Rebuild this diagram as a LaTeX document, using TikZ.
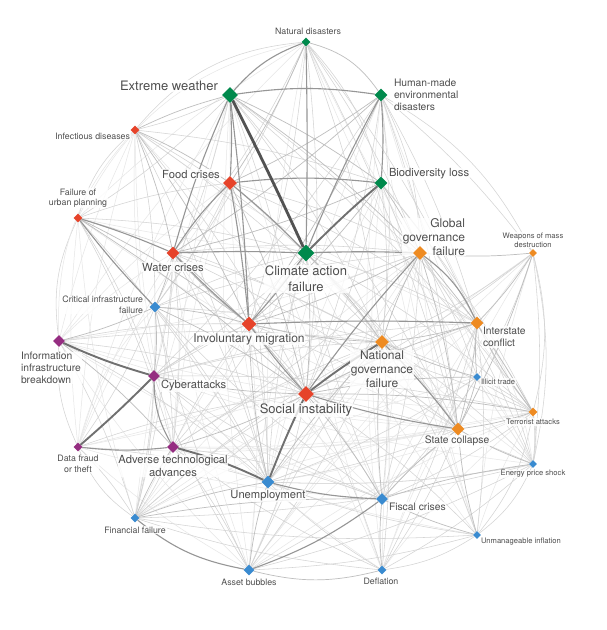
\documentclass[tikz,border=0pt]{standalone}
\usepackage{fontspec}
\setmainfont{TeX Gyre Heros}
\usetikzlibrary{shapes.geometric}
\definecolor{cgreen}{RGB}{0,137,76}
\definecolor{cred}{RGB}{230,67,42}
\definecolor{corange}{RGB}{238,139,34}
\definecolor{cpurple}{RGB}{149,45,129}
\definecolor{cblue}{RGB}{58,139,208}
\definecolor{txt}{RGB}{78,78,78}
\definecolor{g0}{RGB}{230,230,230}
\definecolor{g1}{RGB}{212,212,212}
\definecolor{g2}{RGB}{190,190,190}
\definecolor{g3}{RGB}{150,150,150}
\definecolor{g4}{RGB}{112,112,112}
\definecolor{g5}{RGB}{82,82,82}
\tikzset{
  dia/.style={diamond, draw=none, inner sep=0pt, minimum width=#1, minimum height=#1},
  lab/.style={text=txt, fill=white, fill opacity=0.8, text opacity=1, inner sep=0.8pt},
  tA/.style={lab, font=\fontsize{7.6}{9}\selectfont},
  tB/.style={lab, font=\fontsize{8.8}{10.5}\selectfont},
  tC/.style={lab, font=\fontsize{10.3}{11.8}\selectfont},
  tCp/.style={lab, font=\fontsize{11.2}{12.2}\selectfont},
  tD/.style={lab, font=\fontsize{12}{13.8}\selectfont},
  tE/.style={lab, font=\fontsize{13}{16.2}\selectfont},
  e0/.style={draw=g0, line width=0.5pt},
  e1/.style={draw=g1, line width=0.55pt},
  e2/.style={draw=g2, line width=0.7pt},
  e3/.style={draw=g3, line width=1.1pt},
  e4/.style={draw=g4, line width=1.9pt},
  e5/.style={draw=g5, line width=2.8pt},
}
\begin{document}
\begin{tikzpicture}[x=1pt,y=-1pt]
\fill[white] (0,0) rectangle (606,630);
\useasboundingbox (0,0) rectangle (606,630);
\path
  (306,42)  coordinate (pnd)
  (230,95)  coordinate (pew)
  (381,95)  coordinate (phm)
  (135,130) coordinate (pid)
  (230,183) coordinate (pfc)
  (381,183) coordinate (pbl)
  (78,218)  coordinate (pfu)
  (173,253) coordinate (pwc)
  (306,253) coordinate (pca)
  (420,253) coordinate (pgg)
  (533,253) coordinate (pwm)
  (155,307) coordinate (pci)
  (59,341)  coordinate (pii)
  (249,324) coordinate (pim)
  (477,323) coordinate (pic)
  (382,342) coordinate (png)
  (154,376) coordinate (pcy)
  (477,377) coordinate (pit)
  (306,394) coordinate (psi)
  (533,412) coordinate (pta)
  (78,447)  coordinate (pdf)
  (173,447) coordinate (pat)
  (458,429) coordinate (psc)
  (533,464) coordinate (pep)
  (268,482) coordinate (pun)
  (382,499) coordinate (pfs)
  (135,518) coordinate (pff)
  (477,535) coordinate (pui)
  (249,570) coordinate (pab)
  (382,570) coordinate (pde);
\foreach \n/\s in {nd/9,ew/16,hm/13,id/9,fc/14,bl/13,fu/9,wc/13,ca/17,gg/14,wm/8,ci/11,ii/12,im/15,ic/13,ng/14,cy/12,it/8,si/16,ta/9,df/9,at/12,sc/13,ep/8,un/13,fs/12,ff/9,ui/8,ab/11,de/9}
  \node[dia=\s pt] (\n) at (p\n) {};
% ---------- very light edges ----------
\foreach \a/\b in {nd/fu,nd/ii,id/ii,nd/ep,hm/ep,hm/ta,hm/ui,wm/ui,wm/de,wm/fs,ta/de,ta/ab,ta/un,ta/ui,ep/it,it/ab,it/ff,it/de,ic/ab,ic/ff,sc/ff,gg/ab,gg/de,gg/ui,gg/ff,ca/ab,ca/de,ca/ui,ca/ep,ca/ff,bl/fs,bl/un,bl/ep,bl/ui,ew/un,ew/fs,ew/ab,ew/ff,ew/at,ew/df,fc/ff,fc/at,fc/df,fc/ii,wc/ii,wc/df,wc/ab,wc/fs,id/at,id/df,id/cy,fu/df,fu/ff,ii/fs,ii/ab,ii/sc,df/fs,df/ng,df/ab,cy/sc,cy/de,cy/ep,at/sc,at/ta,at/ui,un/ta,un/ep,de/im,ab/im,ff/im,nd/ta,nd/un,hm/de,hm/un,wm/un,wm/ab,id/sc,id/ic,fu/sc,fu/gg,ii/gg,ii/ta,df/sc,df/ic}
  \draw[e0] (\a) to[bend right=6] (\b);
% ---------- light edges ----------
\foreach \a/\b in {ew/si,ew/id,ew/fu,ew/ci,ew/ng,ew/sc,hm/si,hm/wm,hm/ng,hm/sc,nd/wc,nd/im,nd/si,nd/gg,nd/ci,nd/ng,id/si,id/ci,id/ca,id/bl,fu/ca,fu/cy,fu/ng,fu/fc,wc/gg,wc/ng,wc/sc,wc/cy,wc/un,ci/at,ci/un,ci/ff,ci/ng,ci/gg,ci/ca,ci/df,ii/un,ii/ff,ii/im,ii/si,ii/ng,cy/un,cy/ff,cy/ic,cy/ta,cy/ng,cy/gg,cy/im,df/un,df/si,df/ff,at/ff,at/ab,at/ng,at/fs,at/im,im/sc,im/ta,im/un,im/fs,si/ab,si/de,si/ui,si/ep,si/ff,ng/fs,ng/ta,ng/ui,ng/ab,ng/de,ng/ep,gg/fs,gg/it,gg/ep,gg/un,gg/at,ic/fs,ic/ui,ic/ep,ic/de,sc/de,sc/ab,sc/un,ta/ep,ta/fs,it/ta,it/fs,it/un,ep/de,ep/ab,ep/ff,ep/un,ui/ab,ui/un,ui/ff,fs/ca,un/ca,ca/sc,ca/ic,bl/si,bl/ng,bl/ic,bl/sc,fc/gg,fc/ng,fc/ci,fc/ic,fc/sc,fc/un,wm/ng,wm/si,wm/it,wm/ep,de/un,de/ff,de/at,ab/ci,ab/cy,ab/ng,fs/cy,fs/ci,ff/si,ff/ng,hm/ic,bl/ta,ca/ta,ca/cy,ca/at,ew/ic,ew/ta,nd/ic,nd/sc,hm/cy,id/ng,id/un,fu/at,fu/un,wc/at,wc/ff}
  \draw[e1] (\a) to[bend left=6] (\b);
% ---------- outer ring arcs ----------
\draw[e1] (hm) to[bend left=16] (wm);
\draw[e1] (wm) to[bend left=14] (ta);
\draw[e1] (ta) to[bend left=10] (ep);
\draw[e1] (ep) to[bend left=14] (ui);
\draw[e1] (ui) to[bend left=12] (de);
\draw[e1] (ff) to[bend left=16] (df);
\draw[e1] (df) to[bend left=14] (ii);
\draw[e1] (ii) to[bend left=16] (fu);
\draw[e1] (fu) to[bend left=16] (id);
\draw[e1] (id) to[bend left=22] (nd);
\draw[e0] (fu) to[bend left=26] (nd);
\draw[e0] (ii) to[bend left=22] (id);
\draw[e1] (wm) to[bend left=12] (ep);
\draw[e1] (ta) to[bend left=14] (ui);
\draw[e0] (ic) to[bend left=12] (ep);
\draw[e1] (nd) to[bend left=14] (bl);
\draw[e1] (hm) to[bend left=12] (gg);
\draw[e0] (ci) to[bend right=14] (df);
% ---------- medium edges ----------
\foreach \a/\b in {nd/fc,hm/fc,hm/wc,bl/gg,bl/wc,id/fc,id/wc,id/im,id/ew,fu/im,fu/si,ci/ii,ci/cy,ci/im,ci/si,ii/at,ff/un,ff/fs,ff/at,ab/un,de/fs,ui/fs,ui/sc,ep/sc,ta/ic,ta/sc,wm/gg,wm/ic,wm/sc,it/sc,it/ic,it/ng,ic/sc,ic/ng,ng/gg,ng/im,si/ic,si/it,si/ta,si/fs,si/cy,si/at,im/wc,gg/im,gg/ta,gg/sc,fs/sc,fs/ep,fs/ng,un/ng,un/im,ca/ng,ca/si,hm/im,bl/im,fc/si,wc/si,ew/gg,wc/ci,ew/bl}
  \draw[e2] (\a) to[bend left=5] (\b);
\draw[e2] (nd) to[bend left=20] (hm);
\draw[e2] (de) to[bend left=14] (ab);
% ---------- strong edges ----------
\draw[e3] (ew) to[bend left=3] (fc);
\draw[e3] (ew) to[bend left=2] (im);
\draw[e3] (ew) to[bend right=4] (wc);
\draw[e3] (ew) to[bend left=14] (nd);
\draw[e3] (ew) to[bend left=8] (hm);
\draw[e3] (ca) to[bend right=2] (wc);
\draw[e3] (ca) to[bend left=2] (gg);
\draw[e3] (ca) to[bend left=3] (im);
\draw[e3] (fc) to[bend left=3] (ca);
\draw[e3] (fc) to[bend left=6] (bl);
\draw[e3] (fc) to[bend right=6] (wc);
\draw[e3] (fc) to[bend left=2] (im);
\draw[e3] (fu) to[bend left=3] (wc);
\draw[e3] (fu) to[bend right=3] (ci);
\draw[e3] (hm) to[bend left=4] (bl);
\draw[e3] (hm) to[bend right=3] (ca);
\draw[e3] (nd) to[bend left=1] (ca);
\draw[e3] (cy) to[bend right=14] (at);
\draw[e3] (df) to[bend right=6] (at);
\draw[e3] (ab) to[bend left=14] (ff);
\draw[e3] (si) to[bend left=3] (gg);
\draw[e3] (si) to[bend left=3] (im);
\draw[e3] (si) to[bend right=4] (sc);
\draw[e3] (ng) to[bend left=4] (sc);
\draw[e3] (gg) to[bend left=14] (ic);
\draw[e3] (im) to[bend left=2] (ic);
\draw[e3] (fs) to[bend left=8] (ab);
\draw[e3] (un) to[bend right=6] (fs);
\draw[e3] (wc) to[bend right=3] (im);
\draw[e4] (ca) to[bend left=2] (bl);
\draw[e4] (ii) to[bend right=4] (cy);
\draw[e4] (cy) to[bend left=2] (df);
\draw[e4] (at) to[bend left=5] (un);
\draw[e4] (un) to[bend left=2] (si);
\draw[e4] (si) to[bend left=3] (ng);
\draw[e5] (ew) to[bend left=1] (ca);
% ---------- labels ----------
\node[tB] (ndL) at (308,31) {Natural disasters};
\node[tE] (ewL) at (169,86) {Extreme weather};
\node[tC, anchor=west, align=left] (hmL) at (393,95) {Human-made\\environmental\\disasters};
\node[tB, anchor=east] (idL) at (131,136) {Infectious diseases};
\node[tCp] (fcL) at (191,174) {Food crises};
\node[tCp, anchor=west] (blL) at (388,174) {Biodiversity loss};
\node[tB, align=center] (fuL) at (78,198) {Failure of\\urban planning};
\node[tCp] (wcL) at (173,267) {Water crises};
\node[tE, align=center] (caL) at (306,279) {Climate action\\failure};
\node[tD, anchor=east, align=right] (ggL) at (466,237) {Global\\governance\\failure};
\node[tA, align=center] (wmL) at (533,240) {Weapons of mass\\destruction};
\node[tB, anchor=east, align=right] (ciL) at (144,305) {Critical infrastructure\\failure};
\node[tC, anchor=west, align=left] (iiL) at (20,368) {Information\\infrastructure\\breakdown};
\node[tD] (imL) at (249,339) {Involuntary migration};
\node[tC, anchor=west, align=left] (icL) at (482,337) {Interstate\\conflict};
\node[tD, align=center] (ngL) at (382,369) {National\\governance\\failure};
\node[tCp, anchor=west] (cyL) at (160,386) {Cyberattacks};
\node[tA, anchor=west] (itL) at (480,382) {Illicit trade};
\node[tE] (siL) at (306,410) {Social instability};
\node[tA] (taL) at (533,422) {Terrorist attacks};
\node[tB, align=center] (dfL) at (78,464) {Data fraud\\or theft};
\node[tCp, align=center] (atL) at (173,466) {Adverse technological\\advances};
\node[tC] (scL) at (457,441) {State collapse};
\node[tA] (epL) at (533,474) {Energy price shock};
\node[tCp] (unL) at (268,496) {Unemployment};
\node[tC, anchor=west] (fsL) at (388,507) {Fiscal crises};
\node[tB] (ffL) at (135,530) {Financial failure};
\node[tA, anchor=west] (uiL) at (480,542) {Unmanageable inflation};
\node[tB] (abL) at (249,582) {Asset bubbles};
\node[tB] (deL) at (381,581) {Deflation};
% ---------- diamonds on top ----------
\foreach \n/\s/\c in {nd/9/cgreen,ew/16/cgreen,hm/13/cgreen,bl/13/cgreen,ca/17/cgreen,
  id/9/cred,fc/14/cred,fu/9/cred,wc/13/cred,im/15/cred,si/16/cred,
  gg/14/corange,wm/8/corange,ic/13/corange,ng/14/corange,ta/9/corange,sc/13/corange,
  ci/11/cblue,it/8/cblue,ep/8/cblue,un/13/cblue,fs/12/cblue,ff/9/cblue,ui/8/cblue,ab/11/cblue,de/9/cblue,
  ii/12/cpurple,cy/12/cpurple,df/9/cpurple,at/12/cpurple}
  \node[dia=\s pt, fill=\c] at (p\n) {};
\end{tikzpicture}
\end{document}
